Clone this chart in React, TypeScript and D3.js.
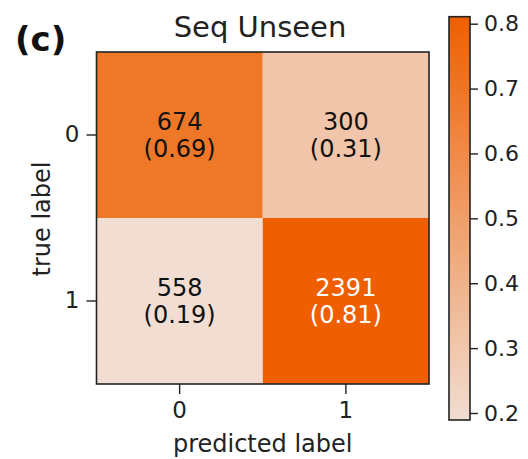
import React, { useEffect, useRef } from 'react';
import * as d3 from 'd3';

// confusion matrix, rows = true label, cols = predicted label
const classes = ['0', '1'];
const counts = [
  [674, 300],
  [558, 2391],
];
const cbarTicks = [0.2, 0.3, 0.4, 0.5, 0.6, 0.7, 0.8];
const whiteTextAbove = 0.75;

const FONT = '"DejaVu Sans", Verdana, sans-serif';

const App = () => {
  const svgRef = useRef<SVGSVGElement>(null);

  useEffect(() => {
    const width = 528;
    const height = 459;
    const svg = d3.select(svgRef.current).attr('width', width).attr('height', height);
    svg.selectAll('*').remove();

    // row-normalised rates
    const cells = counts.flatMap((row, i) => {
      const total = d3.sum(row);
      return row.map((c, j) => ({ i, j, count: c, rate: c / total }));
    });
    const [vmin, vmax] = d3.extent(cells, d => d.rate) as [number, number];

    const x = d3.scaleBand().domain(classes).range([96.5, 429]);
    const y = d3.scaleBand().domain(classes).range([52, 384]);
    const color = d3
      .scaleLinear<string>()
      .domain([vmin, vmax])
      .range(['#f1ddd1', '#ef5f00'])
      .interpolate(d3.interpolateRgb);

    // cells
    const g = svg
      .selectAll('g.cell')
      .data(cells)
      .join('g')
      .attr('class', 'cell')
      .attr('transform', d => `translate(${x(classes[d.j])},${y(classes[d.i])})`);

    g.append('rect')
      .attr('width', x.bandwidth())
      .attr('height', y.bandwidth())
      .attr('fill', d => color(d.rate));

    const txt = g
      .append('text')
      .attr('text-anchor', 'middle')
      .style('font-family', FONT)
      .style('font-size', '24px')
      .attr('fill', d => (d.rate > whiteTextAbove ? '#ffffff' : '#111111'));
    txt
      .append('tspan')
      .attr('x', x.bandwidth() / 2)
      .attr('y', y.bandwidth() / 2 - 13)
      .attr('dy', '0.35em')
      .text(d => d.count);
    txt
      .append('tspan')
      .attr('x', x.bandwidth() / 2)
      .attr('y', y.bandwidth() / 2 + 14)
      .attr('dy', '0.35em')
      .text(d => `(${d.rate.toFixed(2)})`);

    // frame
    svg
      .append('rect')
      .attr('x', 96.5)
      .attr('y', 52)
      .attr('width', 429 - 96.5)
      .attr('height', 384 - 52)
      .attr('fill', 'none')
      .attr('stroke', '#222')
      .attr('stroke-width', 1.6);

    // axes
    const yAxis = svg
      .append('g')
      .attr('transform', 'translate(96.5,0)')
      .call(d3.axisLeft(y).tickSize(10).tickPadding(7));
    const xAxis = svg
      .append('g')
      .attr('transform', 'translate(0,384)')
      .call(d3.axisBottom(x).tickSize(10).tickPadding(8));
    [yAxis, xAxis].forEach(a => {
      a.select('.domain').remove();
      a.selectAll('line').attr('stroke', '#222').attr('stroke-width', 1.4);
      a.selectAll('text').style('font-family', FONT).style('font-size', '23px').attr('fill', '#222');
    });

    svg
      .append('text')
      .attr('transform', 'translate(50,219) rotate(-90)')
      .attr('text-anchor', 'middle')
      .style('font-family', FONT)
      .style('font-size', '24px')
      .attr('fill', '#222')
      .text('true label');

    svg
      .append('text')
      .attr('x', 262.7)
      .attr('y', 452)
      .attr('text-anchor', 'middle')
      .style('font-family', FONT)
      .style('font-size', '24px')
      .attr('fill', '#222')
      .text('predicted label');

    svg
      .append('text')
      .attr('x', 260)
      .attr('y', 37)
      .attr('text-anchor', 'middle')
      .style('font-family', FONT)
      .style('font-size', '29px')
      .attr('fill', '#222')
      .text('Seq Unseen');

    svg
      .append('text')
      .attr('x', 15)
      .attr('y', 51)
      .style('font-family', FONT)
      .style('font-size', '34px')
      .style('font-weight', 'bold')
      .attr('fill', '#111')
      .text('(c)');

    // colorbar
    const cb = { x: 449, w: 21, top: 16.7, bottom: 420 };
    const cbY = d3.scaleLinear().domain([vmin, vmax]).range([cb.bottom, cb.top]);
    const grad = svg
      .append('defs')
      .append('linearGradient')
      .attr('id', 'cbar')
      .attr('x1', 0)
      .attr('y1', 1)
      .attr('x2', 0)
      .attr('y2', 0);
    d3.range(0, 1.0001, 0.1).forEach(t => {
      grad
        .append('stop')
        .attr('offset', t)
        .attr('stop-color', color(vmin + t * (vmax - vmin)));
    });
    svg
      .append('rect')
      .attr('x', cb.x)
      .attr('y', cb.top)
      .attr('width', cb.w)
      .attr('height', cb.bottom - cb.top)
      .attr('fill', 'url(#cbar)')
      .attr('stroke', '#222')
      .attr('stroke-width', 1.6);

    const cAxis = svg
      .append('g')
      .attr('transform', `translate(${cb.x + cb.w},0)`)
      .call(d3.axisRight(cbY).tickValues(cbarTicks).tickFormat(d3.format('.1f')).tickSize(8).tickPadding(6));
    cAxis.select('.domain').remove();
    cAxis.selectAll('line').attr('stroke', '#222').attr('stroke-width', 1.4);
    cAxis.selectAll('text').style('font-family', FONT).style('font-size', '22px').attr('fill', '#222');
  }, []);

  return (
    <div>
      <svg ref={svgRef} style={{ position: 'absolute', left: 0, top: 0 }}></svg>
    </div>
  );
};

export default App;
